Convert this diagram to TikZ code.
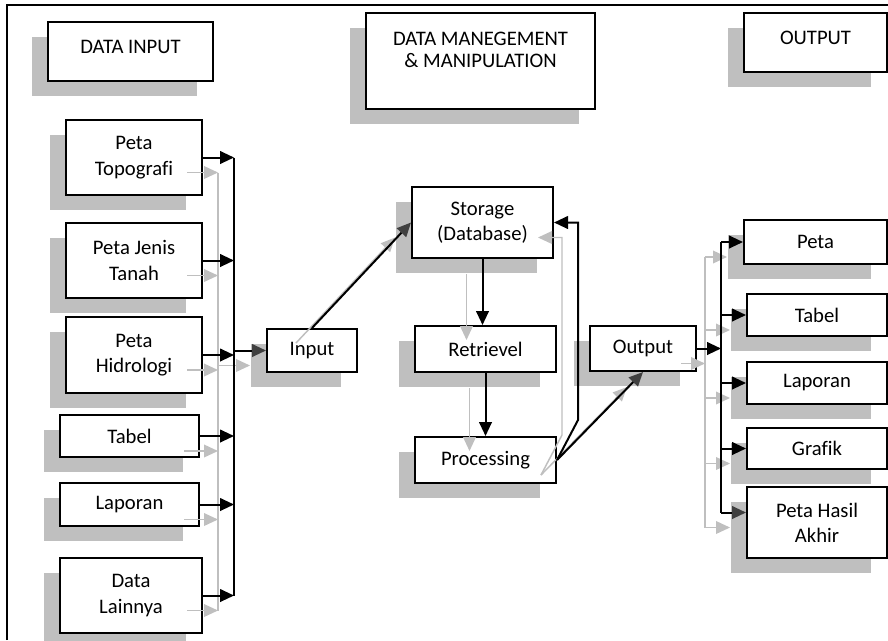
\documentclass[tikz,border=0pt]{standalone}
\usepackage{fontspec}
\setmainfont{Carlito}[Ligatures=NoCommon]
\usetikzlibrary{arrows.meta, shadows}
\definecolor{shadowgray}{RGB}{191,191,191}
\definecolor{headgray}{RGB}{64,64,64}

\begin{document}
\begin{tikzpicture}[
  x=0.75pt, y=-0.75pt,
  font=\fontsize{15.5}{19}\selectfont,
  wh/.style 2 args={minimum width=#1*0.75pt, minimum height=#2*0.75pt},
  panel/.style={draw, line width=1.5pt, fill=white, inner sep=2pt,
    general shadow={fill=shadowgray, shadow xshift=-12pt, shadow yshift=-11.25pt}},
  box/.style={panel, align=center},
  head/.style={panel, text depth=7pt}
]
\useasboundingbox (0,0) rectangle (888,640);
\draw[line width=1.5pt] (7,640) -- (7,5) -- (888,5);

% column titles
\node[head, wh={165}{59}] (hin) at (130.5,51.5) {DATA INPUT};
\node[box, wh={229}{96}, font=\fontsize{15.5}{16.5}\selectfont] (hman) at (480.5,61)
  {DATA MANEGEMENT\\\& MANIPULATION\\~};
\node[head, wh={143}{59}] (hout) at (815.5,42.5) {OUTPUT};

% sources
\node[box, wh={136}{75}] (topo) at (134,157.5) {Peta\\Topografi};
\node[box, wh={136}{75}] (tanah) at (134,260.5) {Peta Jenis\\Tanah};
\node[box, wh={136}{76}] (hidro) at (134,355) {Peta\\Hidrologi};
\node[box, wh={139}{42}] (tabin) at (129.5,436) {Tabel};
\node[box, wh={139}{43}] (lapin) at (129.5,504.5) {Laporan};
\node[box, wh={142}{75}] (lain) at (131,595.5) {Data\\Lainnya};

% processing chain
\node[box, wh={90}{43}] (inp) at (312,350.5) {Input};
\node[box, wh={141}{71}] (stor) at (482.5,222.5) {Storage\\(Database)};
\node[box, wh={141}{46}] (retr) at (485.5,349) {Retrievel};
\node[box, wh={141}{46}] (proc) at (485.5,460) {Processing};
\node[box, wh={106}{45}] (outp) at (643,348.5) {Output};

% products
\node[box, wh={143}{44}] (peta) at (815.5,242) {Peta};
\node[box, wh={140}{42}] (tabout) at (817,315) {Tabel};
\node[box, wh={140}{42}] (lapout) at (817,383) {Laporan};
\node[box, wh={140}{41}] (grafik) at (817,448.5) {Grafik};
\node[box, wh={140}{71}] (hasil) at (817,522.5) {Peta Hasil\\Akhir};

\coordinate (busL) at (234,0);
\coordinate (busR) at (721,0);
\coordinate (hasilin) at ([yshift=7.5pt]hasil.west);

% wiring: grey copy first, then the black one on top
\foreach \ink/\tip/\d/\lw in {shadowgray/shadowgray/1/1.1pt, black/headgray/0/1.5pt}{
  \begin{scope}[transform canvas={shift={(-16*\d,15*\d)}},
    wire/.style={draw=\ink, line width=\lw},
    link/.style={wire, -{Triangle[length=10.5pt, width=9.5pt]}},
    dlink/.style={wire, -{Triangle[length=10.5pt, width=9.5pt, color=\tip]}}]
    \foreach \b in {topo,tanah,hidro,tabin,lapin,lain}
      \draw[link] (\b.east) -- (\b.east -| busL);
    \draw[wire] (topo.east -| busL) -- (lain.east -| busL);
    \draw[dlink] (inp.west -| busL) -- (inp.west);
    \draw[dlink] (inp.north) -- (stor.west);
    \draw[link] (stor.south) -- (stor.south |- retr.north);
    \draw[link] (retr.south) -- (retr.south |- proc.north);
    \draw[link] (proc.east) -- ++(21,-40) |- (stor.east);
    \draw[dlink] (proc.east) -- (outp.south);
    \draw[link] (outp.east) -- (outp.east -| busR);
    \draw[wire] (busR |- peta.west) -- (busR |- hasilin);
    \foreach \b in {peta,tabout,lapout,grafik}
      \draw[link] (busR |- \b.west) -- (\b.west);
    \draw[dlink] (busR |- hasilin) -- (hasilin);
  \end{scope}
}
\end{tikzpicture}
\end{document}
